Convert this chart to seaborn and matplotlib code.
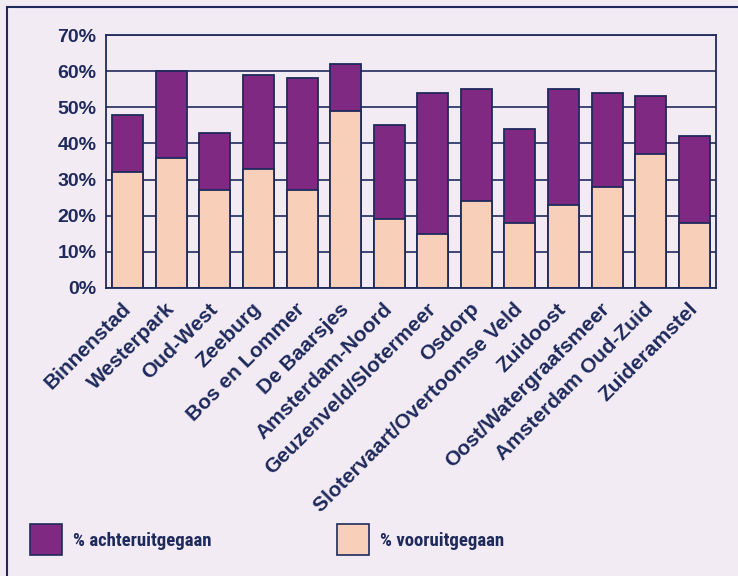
import matplotlib
matplotlib.use("Agg")
import matplotlib.pyplot as plt
import matplotlib.patches as mpatches
from matplotlib.ticker import MultipleLocator, FuncFormatter, FixedLocator
import seaborn as sns
import pandas as pd
import numpy as np

# ==========================================
# Data
# ==========================================
districts = [
    "Binnenstad", "Westerpark", "Oud-West", "Zeeburg", "Bos en Lommer",
    "De Baarsjes", "Amsterdam-Noord", "Geuzenveld/Slotermeer", "Osdorp",
    "Slotervaart/Overtoomse Veld", "Zuidoost", "Oost/Watergraafsmeer",
    "Amsterdam Oud-Zuid", "Zuideramstel",
]
vooruit = [32, 36, 27, 33, 27, 49, 19, 15, 24, 18, 23, 28, 37, 18]
achteruit = [16, 24, 16, 26, 31, 13, 26, 39, 31, 26, 32, 26, 16, 24]

df = pd.DataFrame({
    "district": districts,
    "vooruit": vooruit,
    "achteruit": achteruit,
})
df["total"] = df["vooruit"] + df["achteruit"]

navy = "#1f2a5c"
purple = "#7f2982"
peach = "#f8cfb8"
bg = "#f2ebf3"

sns.set_style("white")
plt.rcParams["font.family"] = ["Liberation Sans", "DejaVu Sans"]

fig = plt.figure(figsize=(7.38, 5.76), dpi=100, facecolor=bg)
ax = fig.add_axes([106 / 738, 1 - 288 / 576, 610 / 738, 253 / 576])
ax.set_facecolor(bg)

ax.set_axisbelow(True)
ax.yaxis.grid(True, color=navy, linewidth=1.2)

# stacked bars: total first (purple), vooruit on top (peach)
sns.barplot(data=df, x="district", y="total", color=purple,
            edgecolor=navy, linewidth=1.3, width=0.71, saturation=1, ax=ax)
sns.barplot(data=df, x="district", y="vooruit", color=peach,
            edgecolor=navy, linewidth=1.3, width=0.71, saturation=1, ax=ax)

ax.set_xlim(-0.5, len(districts) - 0.5)
ax.set_ylim(0, 70)
ax.yaxis.set_major_locator(MultipleLocator(10))
ax.yaxis.set_major_formatter(FuncFormatter(lambda v, p: f"{v:.0f}%"))

ax.set_xlabel("")
ax.set_ylabel("")

for s in ax.spines.values():
    s.set_color(navy)
    s.set_linewidth(1.3)

# labels at bar centres, ticks between categories
ax.set_xticks(range(len(districts)))
ax.set_xticklabels(districts)
ax.tick_params(axis="x", which="major", length=0, pad=13)
ax.xaxis.set_minor_locator(FixedLocator(np.arange(0.5, len(districts) - 1, 1)))
ax.tick_params(axis="x", which="minor", length=6, width=1.3, color=navy,
               direction="out")
ax.tick_params(axis="y", length=0, pad=7)

for t in ax.get_xticklabels():
    t.set_rotation(45)
    t.set_ha("right")
    t.set_va("center")
    t.set_rotation_mode("anchor")
    t.set_fontsize(15)
    t.set_fontweight("bold")
    t.set_color(navy)
for t in ax.get_yticklabels():
    t.set_fontsize(14)
    t.set_fontweight("bold")
    t.set_color(navy)

# legend boxes
leg_items = [
    (30, "% achteruitgegaan", purple),
    (337, "% vooruitgegaan", peach),
]
for x0, label, col in leg_items:
    fig.patches.append(mpatches.Rectangle(
        (x0 / 738, 1 - 555 / 576), 32 / 738, 31 / 576,
        transform=fig.transFigure, facecolor=col, edgecolor=navy,
        linewidth=1.2))
    fig.text((x0 + 43) / 738, 1 - 541 / 576, label,
             family=["Roboto Condensed", "Liberation Sans", "DejaVu Sans"],
             fontsize=13.5, fontweight="bold", color=navy, va="center")

# outer frame
fig.patches.append(mpatches.Rectangle(
    (7 / 738, -0.02), 1.0, 1 - 7 / 576 + 0.02,
    transform=fig.transFigure, fill=False, edgecolor=navy, linewidth=1.5))

fig.savefig("out.png", dpi=100, facecolor=bg)
